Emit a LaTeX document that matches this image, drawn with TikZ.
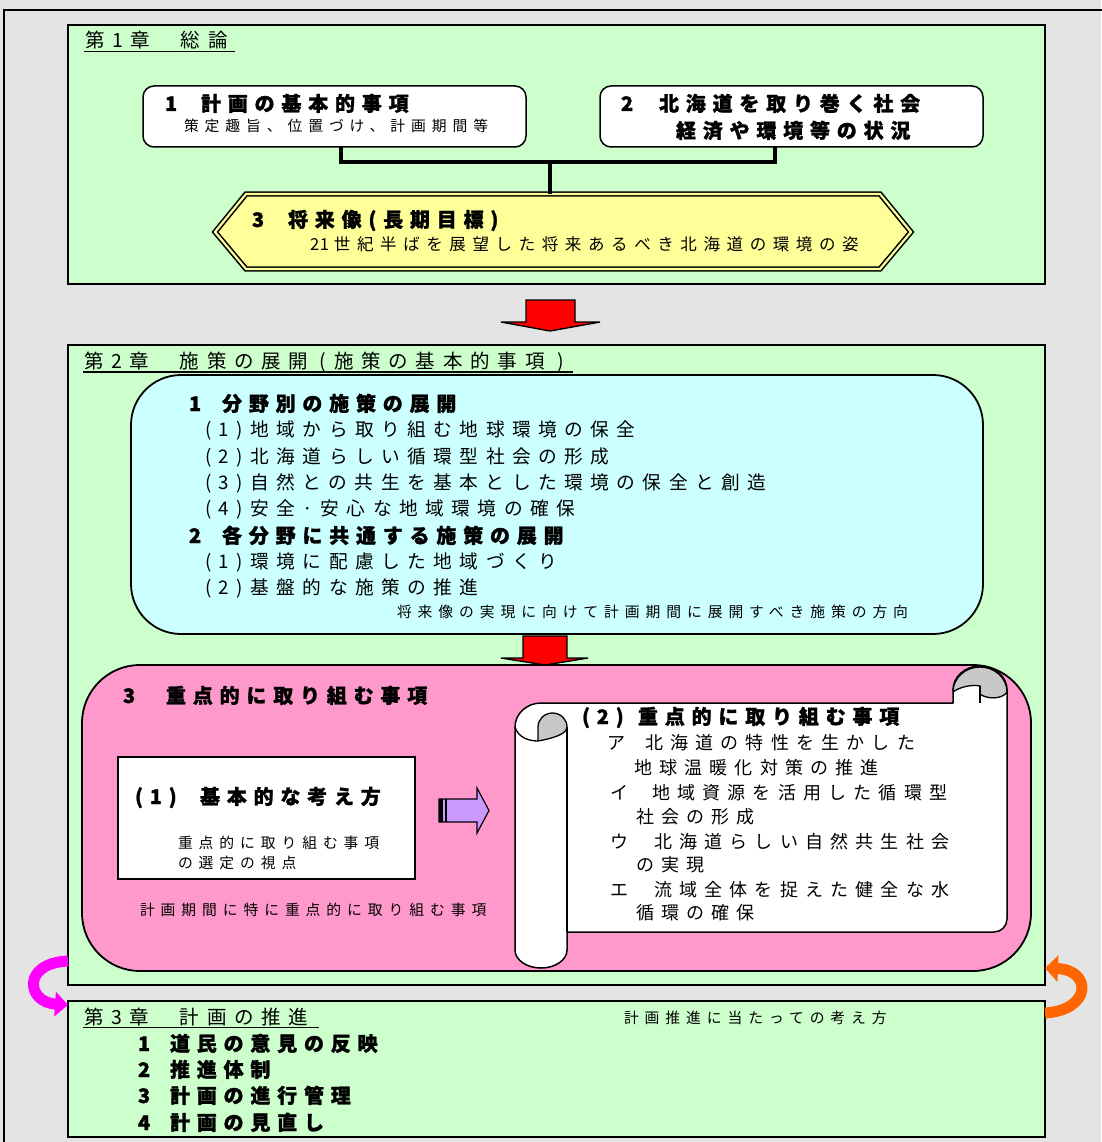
\documentclass[tikz,border=0pt]{standalone}
\usepackage{fontspec}
\setmainfont{Noto Sans CJK JP}
\newfontfamily\jp[LetterSpace=40]{Noto Sans CJK JP}
\newfontfamily\jpb[LetterSpace=34,BoldFeatures={FakeBold=1.2}]{Noto Sans CJK JP}
\usetikzlibrary{arrows.meta}
\definecolor{bgc}{HTML}{E4E4E4}
\definecolor{grn}{HTML}{CCFFCC}
\definecolor{cyn}{HTML}{CCFFFF}
\definecolor{yel}{HTML}{FFFF99}
\definecolor{pnk}{HTML}{FF99CC}
\definecolor{vio}{HTML}{CC99FF}
\definecolor{org}{HTML}{FF6600}
\definecolor{mag}{HTML}{FF00FF}
\definecolor{curl}{HTML}{C8C8C8}
\newcommand\fsz[1]{\fontsize{#1}{#1}\selectfont}
\newcommand\nb[2]{\makebox[#1][l]{#2}}
\newcommand\tight[1]{\mbox{\addfontfeature{LetterSpace=4}#1}}
\begin{document}
\begin{tikzpicture}[x=1pt,y=-1pt,
  every node/.style={inner sep=0pt,outer sep=0pt},
  tx/.style={anchor=base west,font=\jp\fsz{18}},
  txl/.style={anchor=base west,font=\jp\fsz{18.7}},
  tch/.style={anchor=base west,font=\jp\fsz{19.5}},
  tsm/.style={anchor=base west,font=\jp\fsz{14.8}},
  tmd/.style={anchor=base west,font=\jp\fsz{16.5}},
  tbd/.style={anchor=base west,font=\jpb\bfseries\fsz{20}},
  chapbox/.style={draw=black,line width=1.8pt,fill=grn},
  whbox/.style={draw=black,line width=1.5pt,fill=white,rounded corners=11pt},
  conn/.style={draw=black,line width=4pt},
  uline/.style={draw=black,line width=1.6pt},
  redarrow/.style={fill=red,draw=black,line width=1.4pt,line join=miter},
]
\useasboundingbox (0,0) rectangle (1101,1142);
\fill[bgc] (0,0) rectangle (1101,1142);
\draw[black,line width=1.4pt] (4,10) rectangle (1106,1148);

% ---------- Chapter 1 ----------
\node[chapbox,minimum width=977,minimum height=259] (c1) at (556.5,154.5) {};
\node[tch] (c1t) at (85,48) {第1章\kern3pt　総論};
\draw[uline] (84,51.5) -- (235,51.5);

\node[whbox,minimum width=383,minimum height=61] (b1) at (334.5,116.5) {};
\node[tbd] (b1t) at (165,111) {\nb{36pt}{1}計画の基本的事項};
\node[tsm] (b1s) at (184,132) {策定趣旨、位置づけ、計画期間等};

\node[whbox,minimum width=383,minimum height=61] (b2) at (791.5,116.5) {};
\node[tbd] (b2t) at (621,111) {\nb{38pt}{2}北海道を取り巻く社会};
\node[tbd] (b2u) at (676,138) {経済や環境等の状況};

% hexagon
\draw[draw=black,double=yel,line width=1.6pt,double distance=2.2pt,fill=yel]
  (215,232) -- (246,194) -- (880,194) -- (911,232) -- (880,269) -- (246,269) -- cycle;
\coordinate (hx) at (550,194);
\coordinate (j1) at (550,162);
\node[tbd] (hxt) at (252,227) {\nb{36pt}{3}将来像(長期目標)};
\node[tmd] (hxs) at (310,250) {\tight{21}\kern5pt 世紀半ばを展望した将来あるべき北海道の環境の姿};

\draw[conn] ([xshift=6.5pt]b1.south) |- (j1) -| ([xshift=-16.5pt]b2.south);
\draw[conn] (j1) -- (hx);

% red arrow 1
\draw[redarrow] (526,300) -- (575,300) -- (575,322) -- (600,322) -- (550,331) -- (501,322) -- (526,322) -- cycle;

% ---------- Chapter 2 ----------
\node[chapbox,minimum width=977,minimum height=640] (c2) at (556.5,665) {};
\node[tch] (c2t) at (84,368) {第2章\kern3pt　施策の展開\kern11pt(\kern8pt 施策の基本的事項\kern13pt)};
\draw[uline] (83,372) -- (573,372);

\node[draw=black,line width=1.8pt,fill=cyn,rounded corners=50pt,minimum width=852,minimum height=259] (cy) at (557,504.5) {};
\node[tbd] (cy1) at (189,411) {\nb{33pt}{1}分野別の施策の展開};
\node[txl] (cy2) at (205,436.5) {(1)地域から取り組む地球環境の保全};
\node[txl] (cy3) at (205,463) {(2)北海道らしい循環型社会の形成};
\node[txl] (cy4) at (205,489.5) {(3)自然との共生を基本とした環境の保全と創造};
\node[txl] (cy5) at (205,515.5) {(4)安全·安心な地域環境の確保};
\node[tbd] (cy6) at (189,543) {\nb{33pt}{2}各分野に共通する施策の展開};
\node[txl] (cy7) at (205,568.5) {(1)環境に配慮した地域づくり};
\node[txl] (cy8) at (205,594.5) {(2)基盤的な施策の推進};
\node[tsm] (cy9) at (397,617) {将来像の実現に向けて計画期間に展開すべき施策の方向};

% pink box
\node[draw=black,line width=1.8pt,fill=pnk,rounded corners=58pt,minimum width=949,minimum height=306] (pk) at (556.5,818) {};

% red arrow 2
\draw[redarrow] (523,636) -- (567,636) -- (567,658) -- (588,658) -- (545,665) -- (501,658) -- (523,658) -- cycle;

\node[tbd] (pk1) at (123,703) {\nb{43pt}{3}重点的に取り組む事項};

\node[draw=black,line width=1.8pt,fill=white,minimum width=297,minimum height=122] (w1) at (266.5,818) {};
\node[tbd] (w1t) at (135,804) {\nb{65pt}{(1)}基本的な考え方};
\node[tsm] (w1s) at (178,848) {重点的に取り組む事項};
\node[tsm] (w1u) at (178,868) {の選定の視点};
\node[tsm] (pkn) at (140,915) {計画期間に特に重点的に取り組む事項};

% violet arrow
\draw[fill=vio,draw=black,line width=1.2pt,line join=miter]
  (439,799) -- (477,799) -- (477,788) -- (489,810.5) -- (477,833) -- (477,822) -- (439,822) -- cycle;
\fill[black] (439,799) rectangle (443,822);
\fill[black] (445,799) rectangle (447,822);

% scroll
\draw[fill=white,draw=black,line width=1.5pt,line join=round]
  (515,727) -- (515,950) arc[start angle=180,end angle=0,x radius=26,y radius=18]
  -- (567,932) -- (994,932) arc[start angle=90,end angle=0,radius=13]
  -- (1007,690) arc[start angle=0,end angle=-180,x radius=27,y radius=24]
  -- (953,703) -- (541,703) arc[start angle=-90,end angle=-180,x radius=26,y radius=24]
  -- cycle;
\draw[black,line width=1.5pt] (567,727) -- (567,932);
\draw[fill=curl,draw=black,line width=1.3pt]
  (538,741) -- (538,727) arc[start angle=180,end angle=360,x radius=14.5,y radius=14]
  .. controls (567,735) and (549,739) .. (538,741);
\draw[black,line width=1.3pt] (515,727) .. controls (518,737) and (528,741) .. (538,741);
\draw[fill=curl,draw=black,line width=1.3pt]
  (953,692) arc[start angle=180,end angle=360,x radius=27,y radius=25]
  .. controls (1002,700) and (986,699) .. (980,694) -- (980,686)
  .. controls (970,684) and (958,688) .. (953,692);
\draw[black,line width=1.3pt] (980,686) -- (980,703);

\node[tbd] (sc0) at (582,724) {\nb{56pt}{(2)}重点的に取り組む事項};
\node[tx] (sc1) at (607,749.5) {\nb{38pt}{ア}北海道の特性を生かした};
\node[tx] (sc2) at (634,774.5) {地球温暖化対策の推進};
\node[tx] (sc3) at (610,799) {\nb{42pt}{イ}地域資源を活用した循環型};
\node[tx] (sc4) at (636,823.5) {社会の形成};
\node[tx] (sc5) at (610,848.5) {\nb{44pt}{ウ}北海道らしい自然共生社会};
\node[tx] (sc6) at (636,871.5) {の実現};
\node[tx] (sc7) at (610,896.5) {\nb{44pt}{エ}流域全体を捉えた健全な水};
\node[tx] (sc8) at (636,919.5) {循環の確保};

% ---------- Chapter 3 ----------
\node[chapbox,minimum width=977,minimum height=136] (c3) at (556.5,1069) {};
\node[tch] (c3t) at (84,1024) {第3章\kern3pt　計画の推進};
\draw[uline] (83,1027.5) -- (319,1027.5);
\node[tsm] (c3n) at (624,1023) {計画推進に当たっての考え方};
\node[tbd] (c31) at (138,1051) {\nb{32pt}{1}道民の意見の反映};
\node[tbd] (c32) at (138,1077) {\nb{32pt}{2}推進体制};
\node[tbd] (c33) at (138,1103) {\nb{32pt}{3}計画の進行管理};
\node[tbd] (c34) at (138,1130) {\nb{32pt}{4}計画の見直し};

% side arrows
\draw[mag,line width=11pt,-{Triangle[width=24pt,length=13pt]}]
  ([yshift=24pt]c2.south west) .. controls (22,963) and (26,1002) .. ([yshift=-4pt]c3.north west);
\draw[org,line width=11pt,-{Triangle[width=26pt,length=13pt]}]
  ([yshift=-12pt]c3.north east) .. controls (1092,1010) and (1092,970) .. ([yshift=17pt]c2.south east);
\end{tikzpicture}
\end{document}
